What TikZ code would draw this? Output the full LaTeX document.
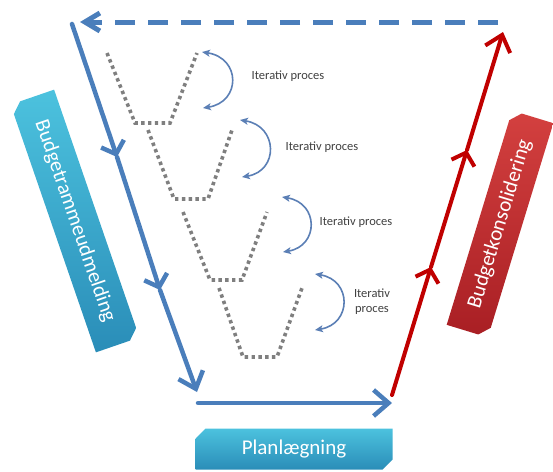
\documentclass[tikz,border=0pt]{standalone}
\usepackage{fontspec}
\setmainfont{Carlito}
\usetikzlibrary{arrows.meta,shapes.misc}

\definecolor{flowblue}{HTML}{4A7EBB}
\definecolor{flowred}{HTML}{C00000}
\definecolor{dotgray}{HTML}{7F7F7F}
\definecolor{loopblue}{HTML}{5B7FB5}
\definecolor{labelgray}{HTML}{404040}
\definecolor{aqualight}{HTML}{4CC2DE}
\definecolor{aquadark}{HTML}{2A8DB8}
\definecolor{redlight}{HTML}{D3403F}
\definecolor{reddark}{HTML}{A91F24}

\begin{document}
\begin{tikzpicture}[x=1pt,y=-1pt,
  flow/.style={line width=4.5pt, color=flowblue, line cap=round},
  redflow/.style={line width=4pt, color=flowred, line cap=round},
  midtip/.style={-{Straight Barb[length=11pt,width=24pt]}},
  endtip/.style={-{Straight Barb[length=15pt,width=26pt]}},
  backline/.style={line width=5pt, color=flowblue, dash pattern=on 20pt off 13pt,
    -{Straight Barb[length=15pt,width=18pt]}},
  dots/.style={dotgray, line width=3.6pt, dash pattern=on 3.4pt off 3.4pt},
  loop/.style={line width=1.6pt, color=loopblue,
    {Stealth[length=8pt,width=7pt,inset=2pt]}-{Stealth[length=8pt,width=7pt,inset=2pt]}},
  itlabel/.style={text=labelgray, font=\fontsize{12.5}{14}\selectfont, align=center, inner sep=0pt},
  phase/.style={chamfered rectangle, chamfered rectangle xsep=5pt, chamfered rectangle ysep=5pt,
    inner sep=0pt, text=white, font=\fontsize{21}{24}\selectfont},
  aquabox/.style={top color=aqualight, bottom color=aquadark, draw=none},
  redbox/.style={top color=redlight, bottom color=reddark, draw=none},
]
\useasboundingbox (0,0) rectangle (553,471);

% phase boxes
\node[phase, aquabox, rotate=-71, minimum width=262pt, minimum height=46pt,
  chamfered rectangle corners={south west,north east}] (ramme) at (75,221) {Budgetrammeudmelding};
\node[phase, redbox, rotate=73, minimum width=224pt, minimum height=43pt,
  chamfered rectangle corners={north east,south west}] (konsol) at (500,224) {Budgetkonsolidering};
\node[phase, aquabox, minimum width=197pt, minimum height=41pt,
  chamfered rectangle corners={north west,south east}] (plan) at (294,449) {Planlægning};

% iteration funnels
\draw[dots] (107,53) -- (135,123) -- (170,123) -- (197,53);
\draw[dots] (148,130) -- (174,199) -- (208,199) -- (232,130);
\draw[dots] (183,212) -- (210,280) -- (242,280) -- (267,212);
\draw[dots] (219,288) -- (243,357) -- (277,357) -- (302,288);

% iteration loops
\coordinate (i1a) at (202,52);  \coordinate (i1b) at (203,108);
\coordinate (i2a) at (240,120); \coordinate (i2b) at (242,177);
\coordinate (i3a) at (282,197); \coordinate (i3b) at (283,252);
\coordinate (i4a) at (315,274); \coordinate (i4b) at (315,330);
\draw[loop] (i1a) .. controls +(39,6) and +(38,-6) .. (i1b);
\draw[loop] (i2a) .. controls +(38,6) and +(37,-6) .. (i2b);
\draw[loop] (i3a) .. controls +(37,6) and +(36,-6) .. (i3b);
\draw[loop] (i4a) .. controls +(37,6) and +(37,-6) .. (i4b);

\node[itlabel] (t1) at (288,76) {Iterativ proces};
\node[itlabel] (t2) at (322,147) {Iterativ proces};
\node[itlabel] (t3) at (356,222) {Iterativ proces};
\node[itlabel] (t4) at (372,302) {Iterativ\\[1pt]proces};

% budget frame flow (down)
\coordinate (b0) at (72,24);
\coordinate (b1) at (117,157);
\coordinate (b2) at (160,290);
\coordinate (b3) at (197,392);
\draw[flow, midtip] (b0) -- (b1);
\draw[flow, midtip] (b1) -- (b2);
\draw[flow, endtip] (b2) -- (b3);

% planning flow
\coordinate (p0) at (198,403);
\coordinate (p1) at (392,403);
\draw[flow, endtip] (p0) -- (p1);

% consolidation flow (up)
\coordinate (r0) at (392,395);
\coordinate (r1) at (431,267);
\coordinate (r2) at (467,150);
\coordinate (r3) at (503,32);
\draw[redflow, midtip] (r0) -- (r1);
\draw[redflow, midtip] (r1) -- (r2);
\draw[redflow, endtip] (r2) -- (r3);

% return path
\coordinate (d0) at (498,22);
\coordinate (d1) at (80,22);
\draw[backline] (d0) -- (d1);
\end{tikzpicture}
\end{document}
